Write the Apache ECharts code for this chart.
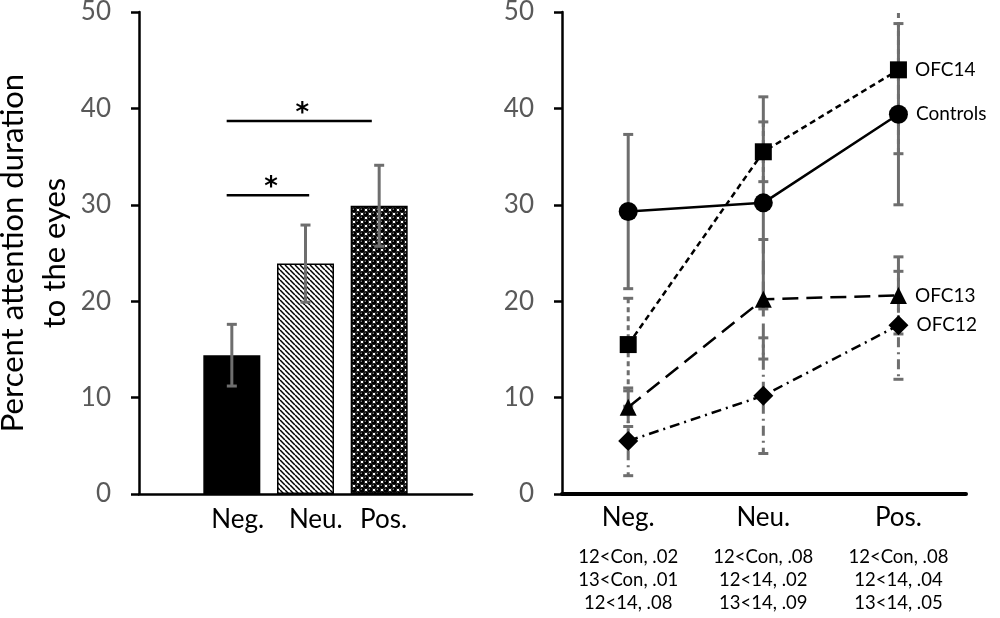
<!DOCTYPE html>
<html>
<head>
<meta charset="utf-8">
<script src="https://cdn.jsdelivr.net/npm/echarts@6/dist/echarts.min.js"></script>
<style>
  html, body { margin: 0; padding: 0; background: #fff; }
  #main { width: 1000px; height: 618px; }
</style>
</head>
<body>
<div id="main"></div>
<script>
// categories
var conds = ['Neg.', 'Neu.', 'Pos.'];
// where the left panel's category labels sit (slightly off the bar centres)
var condLabelAt = [0.08, 1.14, 2.06];

// left panel: bar means and error
var barMean = [14.4, 23.9, 29.9];
var barErr = [3.2, 4.0, 4.2];

// significance brackets (x from, x to, y level)
var sigFrom = [-0.07, -0.07];
var sigTo = [1.05, 1.9];
var sigY = [31.0, 38.7];

// right panel: group means and errors
var ctrlMean = [29.3, 30.2, 39.4];
var ctrlErr = [8.0, 11.0, 9.4];
var ofc14Mean = [15.5, 35.5, 44.0];
var ofc14Err = [4.8, 3.1, 8.7];
var ofc13Mean = [9.0, 20.2, 20.6];
var ofc13Err = [2.0, 6.2, 4.0];
var ofc12Mean = [5.5, 10.2, 17.5];
var ofc12Err = [3.6, 6.0, 5.6];

// p-value lines under each condition
var pLines = [
    ['12<Con, .02', '13<Con, .01', '12<14, .08'],
    ['12<Con, .08', '12<14, .02', '13<14, .09'],
    ['12<Con, .08', '12<14, .04', '13<14, .05']
];

var FONT = 'Lato';
var GREY = '#6e6e6e';

// fill patterns
function hatchPattern() {
    var c = document.createElement('canvas');
    c.width = 5; c.height = 5;
    var g = c.getContext('2d');
    g.fillStyle = '#fff'; g.fillRect(0, 0, 5, 5);
    g.strokeStyle = '#000'; g.lineWidth = 1.5;
    [-5, 0, 5].forEach(function (k) {
        g.beginPath(); g.moveTo(k, 0); g.lineTo(k + 5, 5); g.stroke();
    });
    return c;
}
function dotPattern() {
    var c = document.createElement('canvas');
    c.width = 8; c.height = 8;
    var g = c.getContext('2d');
    g.fillStyle = '#fff'; g.fillRect(0, 0, 8, 8);
    g.fillStyle = '#000';
    [[2, 2], [6, 6], [6, -2], [-2, 6], [10, 2], [2, 10]].forEach(function (p) {
        g.beginPath(); g.arc(p[0], p[1], 2.9, 0, Math.PI * 2); g.fill();
    });
    g.fillStyle = '#999';
    [[1.3, 1.3], [5.3, 5.3]].forEach(function (p) {
        g.beginPath(); g.arc(p[0], p[1], 0.7, 0, Math.PI * 2); g.fill();
    });
    return c;
}

var barFills = [
    '#000',
    {image: hatchPattern(), repeat: 'repeat'},
    {image: dotPattern(), repeat: 'repeat'}
];

function errBars(dash) {
    return function (params, api) {
        var x = api.value(0), y = api.value(1), e = api.value(2);
        var hi = api.coord([x, y + e]);
        var lo = api.coord([x, y - e]);
        var cw = 5;
        var st = {stroke: GREY, lineWidth: 3, lineDash: dash};
        var cap = {stroke: GREY, lineWidth: 3};
        return {
            type: 'group',
            children: [
                {type: 'line', shape: {x1: hi[0], y1: hi[1], x2: lo[0], y2: lo[1]}, style: st},
                {type: 'line', shape: {x1: hi[0] - cw, y1: hi[1], x2: hi[0] + cw, y2: hi[1]}, style: cap},
                {type: 'line', shape: {x1: lo[0] - cw, y1: lo[1], x2: lo[0] + cw, y2: lo[1]}, style: cap}
            ]
        };
    };
}

function withErr(mean, err) {
    return mean.map(function (v, i) { return [i, v, err[i]]; });
}
function pts(mean) {
    return mean.map(function (v, i) { return [i, v]; });
}

var myChart = echarts.init(document.getElementById('main'));

var yAxisBase = {
    type: 'value', min: 0, max: 50, interval: 10,
    splitLine: {show: false},
    axisLine: {show: true, onZero: false, lineStyle: {color: '#000', width: 2.5}},
    axisTick: {show: true, inside: false, length: 8, lineStyle: {color: '#000', width: 2.5}},
    axisLabel: {color: '#595959', fontSize: 26, fontFamily: FONT, margin: 28}
};

var lineSeries = function (name, mean, dash, symbol, size) {
    return {
        name: name, type: 'line', xAxisIndex: 1, yAxisIndex: 1,
        data: pts(mean), symbol: symbol, symbolSize: size,
        lineStyle: {color: '#000', width: 2.5, type: dash},
        itemStyle: {color: '#000'},
        z: 5,
        label: {
            show: true, position: 'right', distance: 8,
            color: '#000', fontSize: 19, fontFamily: FONT,
            formatter: function (p) { return p.dataIndex === 2 ? p.seriesName : ''; }
        }
    };
};

option = {
    animation: false,
    grid: [
        {left: 139, right: 528, top: 12, bottom: 124, containLabel: false, outerBoundsMode: 'none'},
        {left: 562, right: 34, top: 12, bottom: 124, containLabel: false, outerBoundsMode: 'none'}
    ],
    xAxis: [
        {
            type: 'value', gridIndex: 0, min: -1.26, max: 3.26,
            splitLine: {show: false},
            axisLine: {onZero: false, lineStyle: {color: '#000', width: 2.5}},
            axisTick: {show: false},
            axisLabel: {
                customValues: condLabelAt, margin: 11, hideOverlap: false,
                fontSize: 26, lineHeight: 30, color: '#000', fontFamily: FONT,
                formatter: function (v) { return conds[Math.round(v)]; }
            }
        },
        {
            type: 'value', gridIndex: 1, min: -0.49, max: 2.5,
            splitLine: {show: false},
            axisLine: {onZero: false, lineStyle: {color: '#000', width: 4}},
            axisTick: {show: false},
            axisLabel: {
                customValues: [0, 1, 2], margin: 9, color: '#000', fontFamily: FONT,
                formatter: function (v) {
                    var i = Math.round(v);
                    return '{a|' + conds[i] + '}\n{s| }\n' +
                        pLines[i].map(function (t) { return '{b|' + t + '}'; }).join('\n');
                },
                rich: {
                    a: {fontSize: 26, lineHeight: 30, fontFamily: FONT, color: '#000'},
                    s: {fontSize: 4, lineHeight: 13},
                    b: {fontSize: 18.5, lineHeight: 23, fontFamily: FONT, color: '#000'}
                }
            }
        }
    ],
    yAxis: [
        echarts.util.merge({
            gridIndex: 0,
            name: 'Percent attention duration\nto the eyes',
            nameLocation: 'middle', nameGap: 63, nameMoveOverlap: false,
            nameTextStyle: {fontSize: 31, lineHeight: 42, color: '#000', fontFamily: FONT}
        }, yAxisBase, true),
        echarts.util.merge({gridIndex: 1}, yAxisBase, true)
    ],
    series: [
        {
            type: 'bar', xAxisIndex: 0, yAxisIndex: 0, barWidth: 57,
            data: barMean.map(function (v, i) {
                return {value: [i, v], itemStyle: {color: barFills[i], borderColor: '#000', borderWidth: 1.5}};
            })
        },
        {
            type: 'custom', xAxisIndex: 0, yAxisIndex: 0, z: 4,
            renderItem: errBars(null), data: withErr(barMean, barErr)
        },
        {
            type: 'custom', xAxisIndex: 0, yAxisIndex: 0, z: 4,
            data: sigFrom.map(function (v, i) { return [v, sigTo[i], sigY[i]]; }),
            renderItem: function (params, api) {
                var a = api.coord([api.value(0), api.value(2)]);
                var b = api.coord([api.value(1), api.value(2)]);
                return {
                    type: 'group',
                    children: [
                        {type: 'line', shape: {x1: a[0], y1: a[1], x2: b[0], y2: b[1]},
                            style: {stroke: '#000', lineWidth: 2.5}},
                        {type: 'text', style: {
                            text: '*', x: (a[0] + b[0]) / 2 + 3, y: a[1] + 6,
                            align: 'center', verticalAlign: 'bottom',
                            font: 'bold 26px "DejaVu Sans"', fill: '#000'
                        }}
                    ]
                };
            }
        },
        {type: 'custom', xAxisIndex: 1, yAxisIndex: 1, clip: true, z: 2,
            renderItem: errBars(null), data: withErr(ctrlMean, ctrlErr)},
        {type: 'custom', xAxisIndex: 1, yAxisIndex: 1, clip: true, z: 2,
            renderItem: errBars([5, 4]), data: withErr(ofc14Mean, ofc14Err)},
        {type: 'custom', xAxisIndex: 1, yAxisIndex: 1, clip: true, z: 2,
            renderItem: errBars([14, 7]), data: withErr(ofc13Mean, ofc13Err)},
        {type: 'custom', xAxisIndex: 1, yAxisIndex: 1, clip: true, z: 2,
            renderItem: errBars([10, 5, 2, 5]), data: withErr(ofc12Mean, ofc12Err)},
        lineSeries('Controls', ctrlMean, 'solid', 'circle', 19),
        lineSeries('OFC14', ofc14Mean, [6, 4], 'rect', 17),
        lineSeries('OFC13', ofc13Mean, [16, 8], 'triangle', 17),
        lineSeries('OFC12', ofc12Mean, [10, 5, 2, 5], 'diamond', 20)
    ]
};

myChart.setOption(option);
</script>
</body>
</html>
